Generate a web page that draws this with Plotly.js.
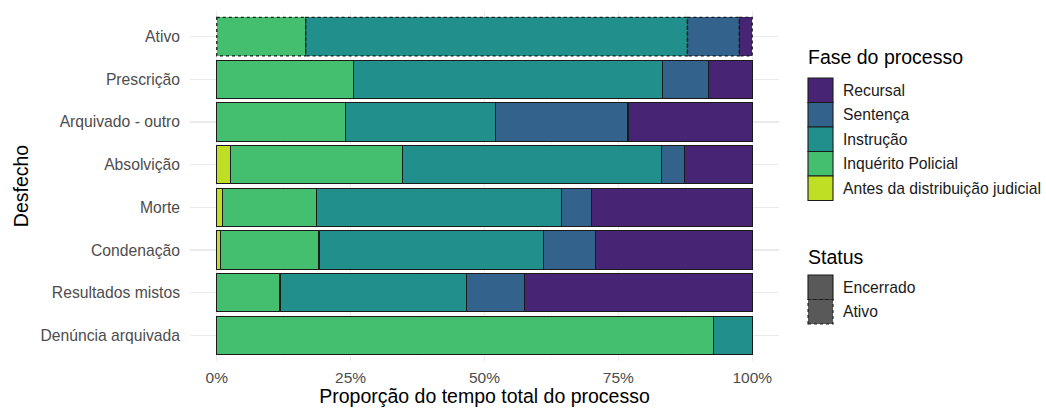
<!DOCTYPE html>
<html>
<head>
<meta charset="utf-8">
<script src="https://cdn.plot.ly/plotly-3.0.1.min.js"></script>
<style>html,body{margin:0;padding:0;background:#fff;}#chart{width:1046px;height:412px;}</style>
</head>
<body>
<div id="chart"></div>
<script>
// ---- data ----
const categories = ['Ativo','Prescrição','Arquivado - outro','Absolvição','Morte','Condenação','Resultados mistos','Denúncia arquivada'];
const status = ['Ativo','Encerrado','Encerrado','Encerrado','Encerrado','Encerrado','Encerrado','Encerrado'];
const phases = ['Antes da distribuição judicial','Inquérito Policial','Instrução','Sentença','Recursal'];
const antes     = [0,     0,     0,     0.025, 0.011, 0.0075, 0,     0];
const inquerito = [0.166, 0.255, 0.240, 0.322, 0.175, 0.1835, 0.118, 0.927];
const instrucao = [0.713, 0.577, 0.281, 0.483, 0.457, 0.419,  0.349, 0.073];
const sentenca  = [0.097, 0.086, 0.247, 0.043, 0.057, 0.097,  0.107, 0];
const recursal  = [0.024, 0.082, 0.232, 0.127, 0.300, 0.293,  0.426, 0];
const xTickVals = [0, 0.25, 0.5, 0.75, 1];
const xTickText = ['0%','25%','50%','75%','100%'];
const legendOrder = ['Recursal','Sentença','Instrução','Inquérito Policial','Antes da distribuição judicial'];
const statusLevels = ['Encerrado','Ativo'];

// ---- style ----
const colors = {
  'Antes da distribuição judicial':'#BFDF25',
  'Inquérito Policial':'#44BF70',
  'Instrução':'#21908C',
  'Sentença':'#33638D',
  'Recursal':'#482475'
};
const series = [antes, inquerito, instrucao, sentenca, recursal];
const FONT = 'Liberation Sans, Arial, sans-serif';
const BW = 0.9;
const M = {l:190, r:267, t:11, b:51};
const W = 1046, H = 412;
const PW = W - M.l - M.r, PH = H - M.t - M.b;

const traces = phases.map((p, i) => ({
  type:'bar', orientation:'h', name:p, showlegend:false,
  y: categories,
  x: series[i].map(v => v === 0 ? null : v),
  width: BW,
  marker:{
    color: colors[p],
    line:{color:'#1a1a1a', width: status.map(s => s === 'Ativo' ? 0 : 1.1)}
  },
  hoverinfo:'y+x+name'
}));

// dotted outlines for active rows, computed from the data
const shapes = [];
categories.forEach((c, ci) => {
  if (status[ci] !== 'Ativo') return;
  let cum = 0;
  series.forEach(s => {
    const v = s[ci];
    if (v > 0) {
      shapes.push({type:'rect', xref:'x', yref:'y', x0:cum, x1:cum+v, y0:ci-BW/2, y1:ci+BW/2,
        line:{color:'#1a1a1a', width:1.3, dash:'dot'}, fillcolor:'rgba(0,0,0,0)', layer:'above'});
    }
    cum += v;
  });
});

// custom legend (ggplot-like keys), placed in paper coords
function px2x(px){ return (px - M.l)/PW; }
function py2y(py){ return (H - M.b - py)/PH; }
const annotations = [];
const KEYW = 25, KEYH = 24.5;
annotations.push({xref:'paper', yref:'paper', x:px2x(806), y:py2y(57), xanchor:'left', yanchor:'middle',
  text:'Fase do processo', showarrow:false, font:{family:FONT, size:19.5, color:'#000'}});
legendOrder.forEach((p, i) => {
  const top = 78 + i*KEYH;
  shapes.push({type:'rect', xref:'paper', yref:'paper', x0:px2x(808), x1:px2x(808+KEYW), y0:py2y(top+KEYH), y1:py2y(top),
    fillcolor:colors[p], line:{color:'#1a1a1a', width:1.1}});
  annotations.push({xref:'paper', yref:'paper', x:px2x(841), y:py2y(top+KEYH/2), xanchor:'left', yanchor:'middle',
    text:p, showarrow:false, font:{family:FONT, size:15.7, color:'#1a1a1a'}});
});
annotations.push({xref:'paper', yref:'paper', x:px2x(806), y:py2y(257), xanchor:'left', yanchor:'middle',
  text:'Status', showarrow:false, font:{family:FONT, size:19.5, color:'#000'}});
statusLevels.forEach((s, i) => {
  const top = 275 + i*KEYH;
  shapes.push({type:'rect', xref:'paper', yref:'paper', x0:px2x(808), x1:px2x(808+KEYW), y0:py2y(top+KEYH), y1:py2y(top),
    fillcolor:'#595959', line:{color:'#1a1a1a', width:1.1, dash: s === 'Ativo' ? 'dot' : 'solid'}});
  annotations.push({xref:'paper', yref:'paper', x:px2x(841), y:py2y(top+KEYH/2), xanchor:'left', yanchor:'middle',
    text:s, showarrow:false, font:{family:FONT, size:15.7, color:'#1a1a1a'}});
});

const layout = {
  width:W, height:H,
  margin:{l:M.l, r:M.r, t:M.t, b:M.b, pad:0},
  paper_bgcolor:'#fff', plot_bgcolor:'#fff',
  barmode:'stack', bargap:0.1,
  font:{family:FONT, color:'#4d4d4d'},
  showlegend:false,
  xaxis:{
    range:[-0.05, 1.05], tickvals:xTickVals, ticktext:xTickText,
    showgrid:true, gridcolor:'#ebebeb', gridwidth:1.1, zeroline:false, showline:false, ticks:'',
    minor:{showgrid:true, tickvals:[0.125,0.375,0.625,0.875], gridcolor:'#f4f4f4', gridwidth:0.6},
    tickfont:{family:FONT, size:15.5, color:'#4d4d4d'}, ticklabelstandoff:5,
    title:{text:'Proporção do tempo total do processo', font:{family:FONT, size:19.5, color:'#000'}, standoff:2},
    fixedrange:true
  },
  yaxis:{
    type:'category', categoryorder:'array', categoryarray:categories,
    range:[categories.length-1+0.6, -0.6],
    showgrid:true, gridcolor:'#ebebeb', gridwidth:1.1, zeroline:false, showline:false, ticks:'',
    tickfont:{family:FONT, size:15.7, color:'#4d4d4d'}, ticklabelstandoff:9,
    title:{text:'Desfecho', font:{family:FONT, size:19.5, color:'#000'}, standoff:6},
    fixedrange:true
  },
  shapes:shapes,
  annotations:annotations
};

Plotly.newPlot('chart', traces, layout, {displayModeBar:false, staticPlot:true});
</script>
</body>
</html>
